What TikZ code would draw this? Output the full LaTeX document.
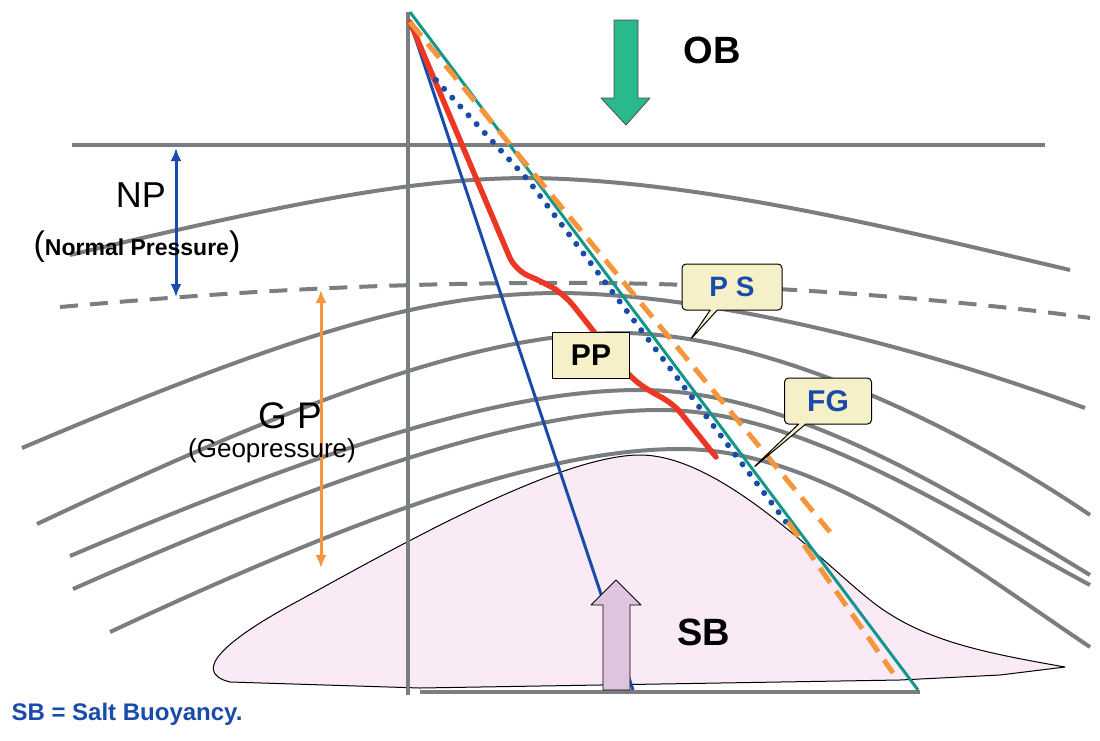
\documentclass[tikz,border=0pt]{standalone}
\usepackage{fontspec}
\setmainfont{Liberation Sans}
\usepackage{tikz}
\usetikzlibrary{shapes.callouts,arrows.meta}
\definecolor{layergray}{RGB}{122,126,129}
\definecolor{obgreen}{RGB}{42,185,140}
\definecolor{sbpink}{RGB}{222,196,222}
\definecolor{saltpink}{RGB}{250,234,246}
\definecolor{boxyellow}{RGB}{246,240,200}
\definecolor{txtblue}{RGB}{25,75,170}
\definecolor{ppred}{RGB}{235,55,35}
\definecolor{fgteal}{RGB}{20,150,140}
\definecolor{psorange}{RGB}{245,150,60}
\tikzset{
  layer/.style={layergray,line width=4pt},
  callbox/.style={rectangle callout,draw,fill=boxyellow,rounded corners=4pt,line width=1pt,
    minimum width=100pt,minimum height=46pt,font=\fontsize{28}{28}\selectfont\bfseries,text=txtblue},
  dblarrow/.style={{Latex[length=13pt,width=11pt]}-{Latex[length=13pt,width=11pt]},line width=3pt},
}
\begin{document}
\begin{tikzpicture}[x=1pt,y=-1pt,line join=round]
\useasboundingbox (0,0) rectangle (1100,740);
%% salt body
\fill[saltpink,draw=black,line width=1pt] (230,682) .. controls (190,672) and (225,640) .. (300,600)
  .. controls (400,545) and (560,455) .. (640,455) .. controls (720,455) and (820,560) .. (870,600)
  .. controls (920,640) and (980,652) .. (1065,667) -- (1000,675) -- (900,680) -- (420,688) -- cycle;
%% layers
\draw[layergray,line width=3.5pt] (72,145) -- (1045,145);
\draw[layer] (70,255) .. controls (300,200) and (420,178) .. (530,178) .. controls (700,180) and (900,230) .. (1070,270);
\draw[layer,dash pattern=on 18pt off 12pt] (60,307) .. controls (250,290) and (400,282) .. (600,283) .. controls (800,285) and (1000,305) .. (1090,318);
\draw[layer] (22,448) .. controls (300,330) and (430,293) .. (560,293) .. controls (700,294) and (900,340) .. (1085,408);
\draw[layer] (37,524) .. controls (300,400) and (480,333) .. (620,333) .. controls (760,333) and (950,420) .. (1090,515);
\draw[layer] (70,556) .. controls (320,450) and (500,390) .. (640,390) .. controls (790,390) and (950,490) .. (1090,575);
\draw[layer] (73,589) .. controls (320,480) and (520,410) .. (660,410) .. controls (800,410) and (950,510) .. (1090,585);
\draw[layer] (110,632) .. controls (350,520) and (540,449) .. (680,449) .. controls (820,449) and (960,560) .. (1090,647);
%% axes
\coordinate (top) at (408,12);
\coordinate (apex) at (410,22);
\draw[layergray,line width=4pt] (top) -- (408,695);
\draw[layergray,line width=4pt] (420,692) -- (920,692);
%% gradient lines
\draw[txtblue,line width=3pt] (apex) -- (633,690);
\draw[ppred,line width=5.5pt,line cap=round,rounded corners=14pt] (apex) -- (515,270) -- (545,283) -- (565,295) -- (628,375) -- (650,392) -- (672,402) -- (716,457);
\draw[txtblue,line width=6pt,line cap=round,dash pattern=on 0pt off 12pt] (436,80) -- (528,180) -- (786,522);
\draw[fgteal,line width=3pt] (410,12) -- (918,690);
\draw[psorange,line width=5pt,dash pattern=on 18pt off 10pt] (410,22) -- (535,175) -- (830,532);
\draw[psorange,line width=5pt,dash pattern=on 18pt off 10pt] (788,522) -- (893,673);
%% arrows
\draw[fill=obgreen,draw=black!70,line width=0.8pt] (614,20) -- (638,20) -- (638,98) -- (650,98) -- (626,125) -- (601,98) -- (614,98) -- cycle;
\node (ob) at (712,50) {\fontsize{38}{38}\selectfont\bfseries OB};
\draw[fill=sbpink,draw=black,line width=0.8pt] (603,690) -- (630,690) -- (630,605) -- (641,605) -- (616,580) -- (591,605) -- (603,605) -- cycle;
\node (sb) at (704,632) {\fontsize{38}{38}\selectfont\bfseries SB};
\coordinate (npa) at (176,148);
\coordinate (npb) at (176,297);
\draw[dblarrow,txtblue] (npa) -- (npb);
\node (np) at (141,195) {\fontsize{36}{36}\selectfont NP};
\node (npt) at (137,247) {\fontsize{34}{34}\selectfont(\fontsize{23}{23}\selectfont\bfseries Normal Pressure\fontsize{34}{34}\mdseries\selectfont)};
\coordinate (gpa) at (321,290);
\coordinate (gpb) at (321,568);
\draw[dblarrow,psorange] (gpa) -- (gpb);
\node (gp) at (290,416) {\fontsize{37}{37}\selectfont G P};
\node (gpt) at (272,451) {\fontsize{26}{26}\selectfont (Geopressure)};
%% labels
\node[draw,fill=boxyellow,line width=1pt,minimum width=77pt,minimum height=46pt,font=\fontsize{30}{30}\selectfont\bfseries] (pp) at (591,355) {PP};
\node[callbox,callout absolute pointer={(690,340)}] (ps) at (732,287) {P S};
\node[callbox,minimum width=87pt,font=\fontsize{30}{30}\selectfont\bfseries,callout absolute pointer={(753,468)}] (fg) at (828,401) {FG};
\node[anchor=west,text=txtblue,font=\fontsize{24}{24}\selectfont\bfseries] (note) at (8,714) {SB = Salt Buoyancy.};
\end{tikzpicture}
\end{document}
